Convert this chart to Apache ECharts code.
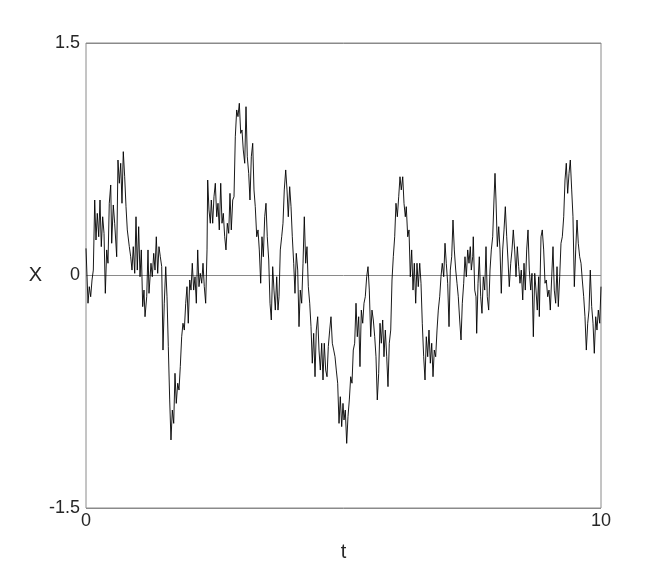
<!DOCTYPE html>
<html>
<head>
<meta charset="utf-8">
<script src="https://cdn.jsdelivr.net/npm/echarts@6/dist/echarts.min.js"></script>
<style>html,body{margin:0;padding:0;background:#fff}#c{width:664px;height:572px}</style>
</head>
<body>
<div id="c"></div>
<script>
const tValues = [
0,0.039,0.064,0.091,0.117,0.142,0.169,0.194,0.219,0.247,0.272,0.297,0.324,0.350,0.375,0.402,0.427,0.452,0.480,0.499,0.530,0.557,0.596,0.621,0.647,0.674,0.699,0.724,0.751,0.777,0.802,0.841,0.868,0.893,0.918,0.946,0.971,0.996,1.023,1.049,1.074,1.101,1.126,1.146,1.179,1.204,1.223,
1.262,1.287,1.315,1.340,1.365,1.392,1.417,1.443,1.470,1.495,1.520,1.548,1.573,1.598,1.625,1.650,1.676,1.703,1.728,1.753,1.781,1.806,1.831,1.858,1.883,1.909,1.936,1.961,1.986,2.014,2.039,2.064,2.091,2.117,2.142,2.169,2.194,2.219,2.247,2.272,2.297,2.324,2.350,2.363,2.388,2.414,
2.433,2.460,2.485,2.511,2.538,2.563,2.588,2.616,2.641,2.666,2.693,2.718,2.744,2.771,2.796,2.821,2.849,2.874,2.899,2.926,2.951,2.977,3.004,3.029,3.054,3.082,3.107,3.132,3.159,3.184,3.210,3.237,3.262,3.287,3.315,3.340,3.365,3.392,3.417,3.443,3.470,3.495,3.520,3.548,3.573,3.598,3.625,3.650,3.676,3.703,3.728,
3.748,3.773,3.800,3.825,3.850,3.878,3.903,3.928,3.955,3.981,4.006,4.033,4.058,4.083,4.111,4.136,4.161,4.188,4.214,4.239,4.266,4.291,4.317,4.344,4.369,4.394,4.421,4.447,4.472,4.499,4.524,4.550,4.577,4.602,4.627,4.654,4.680,4.705,4.732,4.757,4.783,4.810,4.835,4.860,4.887,4.913,4.938,4.965,4.990,
5.010,5.035,5.062,5.087,5.113,5.140,5.165,5.190,5.217,5.243,5.268,5.295,5.320,5.346,5.373,5.398,5.423,5.450,5.476,5.501,5.528,5.553,5.579,5.606,5.631,5.656,5.683,5.709,5.734,5.761,5.786,5.812,5.839,5.864,5.889,5.917,5.942,5.967,5.994,6.019,6.045,6.072,6.097,6.122,6.150,6.175,6.200,
6.219,6.247,6.272,6.297,6.324,6.350,6.375,6.402,6.427,6.452,6.480,6.505,6.530,6.557,6.583,6.608,6.635,6.660,6.686,6.713,6.738,6.763,6.790,6.816,6.841,6.868,6.893,6.918,6.946,6.971,6.996,7.023,7.049,7.074,7.101,7.126,7.152,7.179,7.204,7.229,7.256,7.282,7.307,7.334,7.359,7.385,7.412,7.437,7.462,
7.482,7.509,7.520,7.548,7.573,7.586,7.612,7.637,7.664,7.689,7.715,7.742,7.767,7.792,7.819,7.845,7.870,7.897,7.922,7.942,7.961,7.987,8.014,8.039,8.064,8.091,8.117,8.142,8.169,8.194,8.219,8.247,8.272,8.297,8.324,8.350,8.375,8.402,8.427,8.452,8.480,8.505,8.530,8.557,8.583,8.608,8.635,8.660,8.686,8.713,8.738,8.763,8.790,8.802,
8.835,8.860,8.887,8.913,8.938,8.965,8.990,9.016,9.043,9.068,9.093,9.120,9.146,9.171,9.198,9.223,9.249,9.276,9.301,9.326,9.353,9.379,9.404,9.431,9.456,9.482,9.509,9.534,9.559,9.586,9.612,9.637,9.664,9.689,9.715,9.742,9.767,9.792,9.819,9.845,9.870,9.897,9.922,9.948,9.975,10.0
];
const xValues = [
0.175,-0.179,-0.072,-0.137,-0.029,0.035,0.487,0.229,0.401,0.250,0.487,0.186,0.379,0.272,-0.115,0.165,0.079,0.466,0.584,0.208,0.455,0.337,0.121,0.745,0.595,0.724,0.466,0.799,0.637,0.444,0.294,0.186,0.121,0.035,0.186,0.014,0.379,0.035,0.315,-0.008,0.165,-0.201,-0.094,-0.266,-0.137,0.165,-0.115,
0.079,-0.008,0.143,0.035,0.250,0.014,0.186,0.121,0.057,-0.481,-0.179,0.057,-0.137,-0.459,-0.803,-1.061,-0.868,-0.954,-0.631,-0.825,-0.695,-0.739,-0.588,-0.395,-0.308,-0.352,-0.179,-0.072,-0.308,-0.029,-0.094,0.079,-0.094,-0.008,-0.179,0.165,-0.072,0.014,-0.050,0.079,-0.072,-0.179,0.165,0.616,0.423,0.337,
0.487,0.337,0.508,0.595,0.379,0.466,0.294,0.595,0.337,0.401,0.250,0.165,0.337,0.272,0.530,0.294,0.487,0.508,0.895,1.068,1.025,1.111,0.917,0.939,0.810,0.724,1.089,0.766,0.659,0.487,0.766,0.853,0.552,0.444,0.250,0.294,0.165,-0.050,0.250,0.121,0.379,0.466,0.250,0.100,-0.179,-0.287,0.057,-0.094,-0.223,-0.008,-0.223,
-0.137,0.165,0.250,0.337,0.552,0.681,0.552,0.379,0.573,0.444,0.250,0.079,-0.115,0.143,0.035,-0.330,-0.094,-0.179,0.079,0.379,0.079,0.186,-0.072,-0.179,-0.330,-0.566,-0.373,-0.653,-0.352,-0.266,-0.481,-0.610,-0.437,-0.674,-0.437,-0.610,-0.653,-0.459,-0.352,-0.266,-0.437,-0.481,-0.524,-0.610,-0.695,-0.954,-0.782,-0.975,-0.825,
-0.932,-0.868,-1.083,-0.911,-0.803,-0.653,-0.695,-0.481,-0.437,-0.179,-0.395,-0.266,-0.588,-0.223,-0.308,-0.179,-0.137,-0.008,0.057,-0.094,-0.395,-0.223,-0.287,-0.395,-0.524,-0.803,-0.631,-0.308,-0.437,-0.287,-0.524,-0.352,-0.524,-0.717,-0.437,-0.352,-0.029,0.121,0.250,0.466,0.379,0.508,0.637,0.552,0.637,0.466,0.379,
0.444,0.250,0.294,-0.008,0.165,-0.094,0.079,-0.179,0.079,-0.072,0.079,-0.050,-0.308,-0.524,-0.674,-0.395,-0.524,-0.352,-0.566,-0.437,-0.653,-0.481,-0.524,-0.352,-0.223,-0.137,-0.008,0.079,-0.008,0.208,0.079,-0.050,-0.330,0.035,0.121,0.358,0.165,0.035,-0.050,-0.137,-0.287,-0.416,-0.179,-0.050,0.121,-0.008,0.165,0.079,0.186,
0.035,0.121,0.250,-0.094,-0.137,-0.373,-0.050,0.121,-0.137,-0.244,-0.008,-0.094,0.186,-0.137,-0.223,0.035,0.165,0.250,0.487,0.659,0.487,0.186,0.315,0.165,-0.115,0.165,0.294,0.444,0.250,0.100,-0.072,0.079,0.165,0.294,0.165,-0.008,0.186,0.057,-0.050,0.035,-0.158,0.079,-0.094,0.165,0.294,0.035,-0.094,0.014,-0.395,0.014,-0.094,-0.223,-0.008,-0.265,
0.250,0.294,0.165,-0.050,-0.029,-0.137,-0.094,-0.223,-0.008,0.186,-0.094,-0.179,0.057,-0.201,-0.008,0.208,0.250,0.379,0.616,0.724,0.530,0.659,0.745,0.552,0.379,-0.072,0.165,0.358,0.208,0.121,0.079,-0.029,-0.137,-0.266,-0.481,-0.308,-0.223,0.035,-0.201,-0.308,-0.502,-0.266,-0.352,-0.223,-0.308,-0.072
];
const yTickLabels = {'1.5':'1.5','0':'0','-1.5':'-1.5'};
const xTickLabels = {'0':'0','10':'10'};

const chart = echarts.init(document.getElementById('c'), null, {renderer:'canvas'});
const font = 'Liberation Sans, Arial, sans-serif';
chart.setOption({
  animation:false,
  backgroundColor:'#fff',
  grid:{left:86,right:63,top:43,bottom:64,show:true,borderColor:'#8a8a8a',borderWidth:1,containLabel:false},
  xAxis:{type:'value',min:0,max:10,interval:10,
    name:'t',nameLocation:'middle',nameGap:34,
    nameTextStyle:{fontFamily:font,fontSize:20,color:'#262626'},
    axisLine:{show:false},axisTick:{show:false},splitLine:{show:false},
    axisLabel:{fontFamily:font,fontSize:18,color:'#262626',margin:4,formatter:v=>xTickLabels[String(v)]||''}},
  yAxis:{type:'value',min:-1.5,max:1.5,interval:1.5,
    name:'X',nameLocation:'middle',nameGap:44,nameRotate:0,
    nameTextStyle:{fontFamily:font,fontSize:20,color:'#262626'},
    axisLine:{show:false},axisTick:{show:false},
    splitLine:{show:true,lineStyle:{color:'#8a8a8a',width:1}},
    axisLabel:{fontFamily:font,fontSize:18,color:'#262626',margin:6,formatter:v=>yTickLabels[String(v)]||''}},
  series:[{type:'line',data:tValues.map((t,i)=>[t,xValues[i]]),
    showSymbol:false,symbol:'none',
    lineStyle:{color:'#000',width:0.9},z:1}]
});
</script>
</body>
</html>
